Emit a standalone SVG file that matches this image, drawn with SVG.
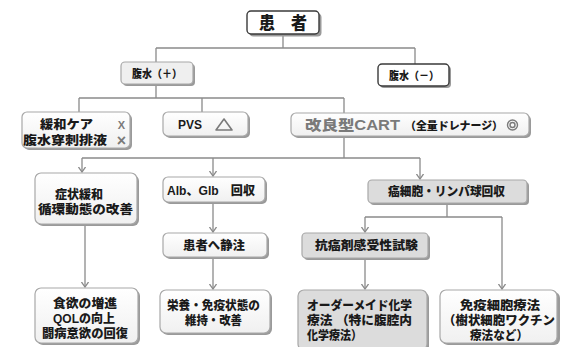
<svg xmlns="http://www.w3.org/2000/svg" width="561" height="347" viewBox="0 0 561 347">
<defs>
<marker id="ah" viewBox="0 0 6 8" refX="5.5" refY="4" markerWidth="6" markerHeight="8" markerUnits="userSpaceOnUse" orient="auto">
<path d="M0.5,0.5 L5.5,4 L0.5,7.5" fill="none" stroke="#8a8a8a" stroke-width="1.3"/>
</marker>
<linearGradient id="lg" x1="0" y1="0" x2="0" y2="1">
<stop offset="0" stop-color="#ffffff"/>
<stop offset="1" stop-color="#f0f0f0"/>
</linearGradient>
</defs>
<style>
.sh{fill:#9a9a9a}
.bx{fill:url(#lg);stroke:#a8a8a8;stroke-width:1.2}
.bxg{fill:#dcdcdc;stroke:#a8a8a8;stroke-width:1.2}
.bxd{fill:#ffffff;stroke:#3a3a3a;stroke-width:1.4}
.t{font-family:"Liberation Sans","Noto Sans CJK JP",sans-serif;font-weight:900;font-size:12.5px;fill:#1a1a1a;text-anchor:middle}
.tl{text-anchor:start}
.gy{fill:#7a7a7a}
.cn{fill:none;stroke:#8a8a8a;stroke-width:1.3}
.ar{marker-end:url(#ah)}
</style>
<rect width="561" height="347" fill="#ffffff"/>

<g id="connectors">
<path class="cn" d="M283,34 V48 M156,48 H415 M156,48 V62 M415,48 V64"/>
<path class="cn" d="M156,84 V98 M79,98 H344 M79,98 V112 M202,98 V112 M344,98 V113"/>
<path class="cn" d="M344,136 V158 M82,158 H420"/>
<path class="cn ar" d="M82,158 V172"/>
<path class="cn ar" d="M213,158 V176"/>
<path class="cn ar" d="M420,158 V179"/>
<path class="cn ar" d="M85,224 V287"/>
<path class="cn ar" d="M213,202 V232"/>
<path class="cn ar" d="M213,257 V289"/>
<path class="cn" d="M447,203 V217 M365,217 H502"/>
<path class="cn ar" d="M365,217 V232"/>
<path class="cn ar" d="M502,217 V289"/>
<path class="cn ar" d="M365,258 V289"/>
</g>

<g id="patient">
<rect class="sh" x="249.5" y="13.5" width="72" height="23" rx="4"/>
<rect class="bxd" x="247" y="11" width="72" height="23" rx="4"/>
<text class="t" x="283" y="29" style="font-size:17px" textLength="48" lengthAdjust="spacingAndGlyphs">患　者</text>
</g>

<g id="ascites-pos">
<rect class="sh" x="123" y="64" width="72" height="22" rx="4"/>
<rect x="121" y="62" width="72" height="22" rx="4" fill="#efefef" stroke="#a8a8a8" stroke-width="1.2"/>
<text class="t" x="157" y="77.5" style="font-size:11px" textLength="50" lengthAdjust="spacingAndGlyphs">腹水（＋）</text>
</g>

<g id="ascites-neg">
<rect class="sh" x="380" y="66" width="71" height="22" rx="4"/>
<rect class="bxd" x="378" y="64" width="71" height="22" rx="4"/>
<text class="t" x="414" y="79.5" style="font-size:11px" textLength="50" lengthAdjust="spacingAndGlyphs">腹水（－）</text>
</g>

<g id="palliative">
<rect class="sh" x="24" y="114" width="108" height="36" rx="5"/>
<rect class="bx" x="22" y="112" width="108" height="36" rx="5"/>
<text class="t" x="66.5" y="129" textLength="53" lengthAdjust="spacingAndGlyphs">緩和ケア</text>
<text class="t gy" x="121.5" y="129" style="font-size:11px">X</text>
<text class="t" x="65" y="145" textLength="84" lengthAdjust="spacingAndGlyphs">腹水穿刺排液</text>
<text class="t gy" x="121.5" y="146" style="font-size:16px">×</text>
</g>

<g id="pvs">
<rect class="sh" x="165" y="114" width="85" height="24" rx="5"/>
<rect class="bx" x="163" y="112" width="85" height="24" rx="5"/>
<text class="t" x="190" y="129" style="font-size:12px" textLength="24" lengthAdjust="spacingAndGlyphs">PVS</text>
<path d="M224,119 L232,130 L216,130 Z" fill="none" stroke="#7a7a7a" stroke-width="1.6" stroke-linejoin="round"/>
</g>

<g id="cart">
<rect class="sh" x="293" y="115" width="238" height="23" rx="5"/>
<rect class="bx" x="291" y="113" width="238" height="23" rx="5"/>
<text class="t tl gy" x="305" y="130" style="font-size:14px" textLength="95" lengthAdjust="spacingAndGlyphs">改良型CART</text>
<text class="t tl" x="405" y="129.5" style="font-size:11px" textLength="98" lengthAdjust="spacingAndGlyphs">（全量ドレナージ）</text>
<circle cx="512.5" cy="125" r="5" fill="none" stroke="#7a7a7a" stroke-width="1.4"/>
<circle cx="512.5" cy="125" r="2.5" fill="none" stroke="#7a7a7a" stroke-width="1.4"/>
</g>

<g id="symptom">
<rect class="sh" x="37" y="175" width="102" height="51" rx="6"/>
<rect class="bx" x="35" y="173" width="102" height="51" rx="6"/>
<text class="t" x="79" y="199" textLength="48" lengthAdjust="spacingAndGlyphs">症状緩和</text>
<text class="t" x="85.5" y="214" textLength="95" lengthAdjust="spacingAndGlyphs">循環動態の改善</text>
</g>

<g id="alb">
<rect class="sh" x="165" y="179" width="102" height="25" rx="5"/>
<rect class="bx" x="163" y="177" width="102" height="25" rx="5"/>
<text class="t" x="211" y="194.5" textLength="88" lengthAdjust="spacingAndGlyphs">Alb、Glb　回収</text>
</g>

<g id="cancer-cells">
<rect class="sh" x="370" y="182" width="159" height="23" rx="4"/>
<rect class="bxg" x="368" y="180" width="159" height="23" rx="4"/>
<text class="t" x="446.5" y="196" textLength="117" lengthAdjust="spacingAndGlyphs">癌細胞・リンパ球回収</text>
</g>

<g id="iv">
<rect class="sh" x="165" y="235" width="104" height="24" rx="5"/>
<rect class="bx" x="163" y="233" width="104" height="24" rx="5"/>
<text class="t" x="214" y="249.5" textLength="62" lengthAdjust="spacingAndGlyphs">患者へ静注</text>
</g>

<g id="sensitivity">
<rect class="sh" x="304" y="235" width="126" height="25" rx="4"/>
<rect class="bxg" x="302" y="233" width="126" height="25" rx="4"/>
<text class="t" x="366.5" y="250" textLength="103" lengthAdjust="spacingAndGlyphs">抗癌剤感受性試験</text>
</g>

<g id="appetite">
<rect class="sh" x="37" y="290" width="103" height="55" rx="6"/>
<rect class="bx" x="35" y="288" width="103" height="55" rx="6"/>
<text class="t" x="85" y="308" textLength="64" lengthAdjust="spacingAndGlyphs">食欲の増進</text>
<text class="t" x="84" y="323" textLength="62" lengthAdjust="spacingAndGlyphs">QOLの向上</text>
<text class="t" x="85" y="338" textLength="86" lengthAdjust="spacingAndGlyphs">闘病意欲の回復</text>
</g>

<g id="nutrition">
<rect class="sh" x="162" y="292" width="110" height="43" rx="6"/>
<rect class="bx" x="160" y="290" width="110" height="43" rx="6"/>
<text class="t" x="213.5" y="310" textLength="93" lengthAdjust="spacingAndGlyphs">栄養・免疫状態の</text>
<text class="t" x="213.5" y="325" textLength="57" lengthAdjust="spacingAndGlyphs">維持・改善</text>
</g>

<g id="chemo">
<rect class="sh" x="300" y="292" width="129" height="60" rx="6"/>
<rect class="bxg" x="298" y="290" width="129" height="60" rx="6"/>
<text class="t tl" x="307" y="310" textLength="105" lengthAdjust="spacingAndGlyphs">オーダーメイド化学</text>
<text class="t tl" x="307" y="325" textLength="105" lengthAdjust="spacingAndGlyphs">療法 （特に腹腔内</text>
<text class="t tl" x="307" y="340" textLength="55" lengthAdjust="spacingAndGlyphs">化学療法）</text>
</g>

<g id="immune">
<rect class="sh" x="442" y="292" width="118" height="53" rx="6"/>
<rect class="bx" x="440" y="290" width="117" height="53" rx="6"/>
<text class="t" x="500" y="310" textLength="80" lengthAdjust="spacingAndGlyphs">免疫細胞療法</text>
<text class="t" x="499" y="325" textLength="112" lengthAdjust="spacingAndGlyphs">（樹状細胞ワクチン</text>
<text class="t" x="499" y="340" textLength="58" lengthAdjust="spacingAndGlyphs">療法など）</text>
</g>
</svg>
